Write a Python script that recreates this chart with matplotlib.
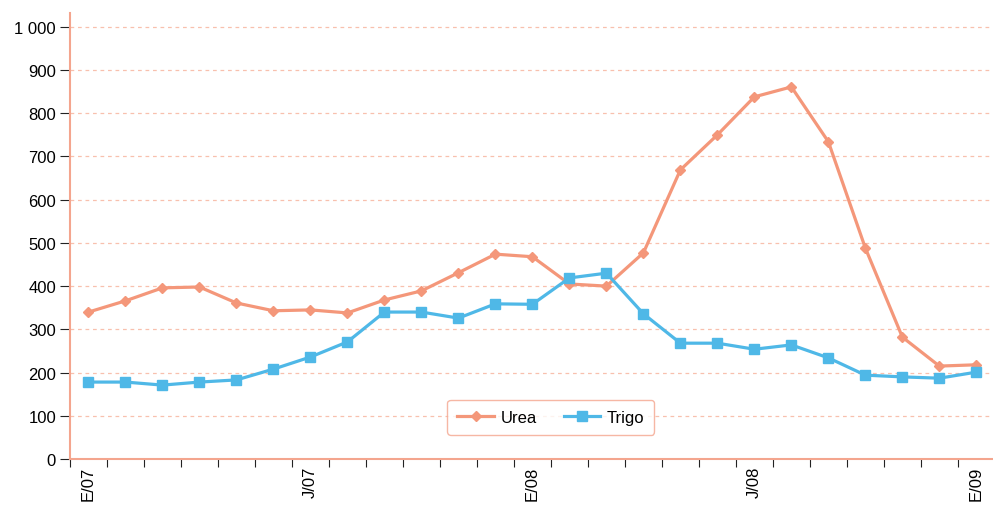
import numpy as np
import matplotlib.pyplot as plt
from matplotlib.ticker import FuncFormatter

plt.rcParams['font.family'] = ['Liberation Sans', 'DejaVu Sans']

# monthly series, Jan 2007 - Jan 2009
urea = [340, 366, 396, 398, 361, 343, 345, 338, 368, 389, 431, 474, 468,
        405, 400, 477, 669, 750, 838, 861, 734, 488, 282, 215, 218]
trigo = [178, 178, 171, 178, 183, 208, 236, 271, 340, 340, 326, 359, 358,
         419, 430, 336, 268, 268, 254, 264, 234, 194, 190, 187, 201]
tick_labels = ['E/07', 'J/07', 'E/08', 'J/08', 'E/09']
tick_pos = [0, 6, 12, 18, 24]

c_urea = '#F4977A'
c_trigo = '#4FB8E7'
c_axis = '#F4A58E'

fig = plt.figure(figsize=(9.93, 5.06), dpi=100)
ax = fig.add_axes([70 / 993, 46 / 506, 923 / 993, 446 / 506])

x = np.arange(len(urea))
ax.plot(x, urea, color=c_urea, lw=2.3, marker='D', ms=5.5, label='Urea', zorder=3)
ax.plot(x, trigo, color=c_trigo, lw=2.3, marker='s', ms=7.5, label='Trigo', zorder=3)

ax.set_xlim(-0.5, 24.45)
ax.set_ylim(0, 1032)
ax.set_yticks(range(0, 1001, 100))
ax.yaxis.set_major_formatter(FuncFormatter(lambda v, p: f'{int(v):,}'.replace(',', ' ')))
ax.set_xticks(tick_pos)
ax.set_xticklabels(tick_labels, rotation=90)
ax.set_xticks(np.arange(-0.5, 24, 1), minor=True)
ax.tick_params(axis='x', which='major', length=0, pad=5, labelsize=12)
ax.tick_params(axis='x', which='minor', length=6, width=0.8, color='#222222', direction='out')
ax.tick_params(axis='y', length=7, width=0.8, color='#222222', labelsize=12, pad=3)

for v in range(100, 1001, 100):
    ax.axhline(v, color='#F8C0AE', lw=0.9, ls=(0, (3, 3)), zorder=1)

for s in ['top', 'right']:
    ax.spines[s].set_visible(False)
ax.spines['left'].set_color(c_axis)
ax.spines['bottom'].set_color(c_axis)
ax.spines['left'].set_linewidth(1.5)
ax.spines['bottom'].set_linewidth(1.5)

leg = ax.legend(loc='center', bbox_to_anchor=(0.521, 0.094), ncol=2, frameon=True,
                fontsize=12, handlelength=2.2, handletextpad=0.4, columnspacing=1.6,
                borderpad=0.6)
leg.get_frame().set_edgecolor(c_axis)
leg.get_frame().set_linewidth(1.0)

fig.savefig('out.png', dpi=100)
